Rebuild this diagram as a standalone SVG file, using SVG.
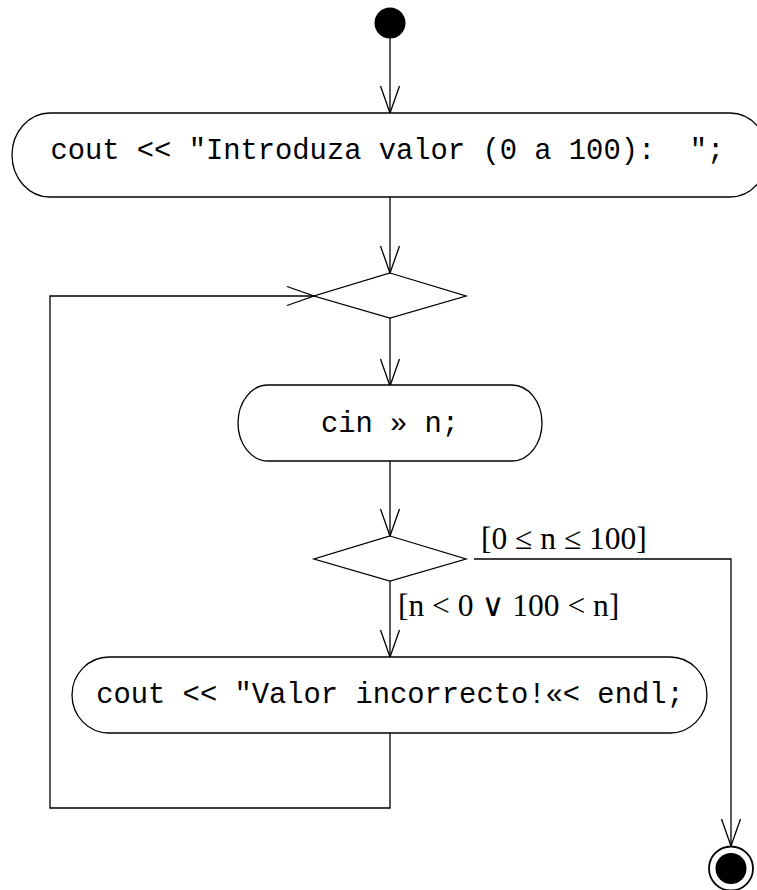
<svg xmlns="http://www.w3.org/2000/svg" width="757" height="890" viewBox="0 0 757 890">
  <style>
    .shape { fill: #ffffff; stroke: #000000; stroke-width: 1.3; }
    .edge { fill: none; stroke: #000000; stroke-width: 1.3; }
    .code { font-family: "Liberation Mono", "DejaVu Sans Mono", monospace; font-size: 28.8px; fill: #000000; }
    .guard { font-family: "Liberation Serif", "DejaVu Serif", serif; font-size: 31.5px; fill: #000000; }
    .op { font-family: "DejaVu Sans", "DejaVu Serif", sans-serif; font-weight: 200; font-size: 31.5px; }
  </style>
  <defs>
    <!-- open V arrowhead used on every control-flow edge -->
    <marker id="vee" markerUnits="userSpaceOnUse" markerWidth="40" markerHeight="30" viewBox="-30 -15 40 30" refX="0" refY="0" orient="auto" overflow="visible">
      <path d="M-27,-9.5 L0,0 L-27,9.5" fill="none" stroke="#000000" stroke-width="1.3"/>
    </marker>
  </defs>

  <rect width="757" height="890" fill="#ffffff"/>

  <!-- control-flow edges -->
  <g id="connectors">
    <path class="edge" d="M390,38 L390,113" marker-end="url(#vee)"/>
    <path class="edge" d="M390,189 L390,273" marker-end="url(#vee)"/>
    <path class="edge" d="M390,318 L390,386" marker-end="url(#vee)"/>
    <path class="edge" d="M390,461 L390,536" marker-end="url(#vee)"/>
    <path class="edge" d="M390,581 L390,657" marker-end="url(#vee)"/>
    <!-- loop back from the error message to the merge node -->
    <path class="edge" d="M390,733 L390,808 L50,808 L50,296 L314,296" marker-end="url(#vee)"/>
    <!-- valid value: leave the loop -->
    <path class="edge" d="M474,559 L731,559 L731,846" marker-end="url(#vee)"/>
    <text class="guard" x="481" y="549">[0 ≤ n ≤ 100]</text>
    <text class="guard" x="398" y="616">[n &lt; 0 <tspan class="op">∨</tspan> 100 &lt; n]</text>
  </g>

  <g id="start">
    <circle cx="390" cy="23" r="15.5" fill="#000000"/>
  </g>

  <g id="act-prompt">
    <rect class="shape" x="12" y="113" width="756" height="84" rx="38" ry="42"/>
    <text class="code" x="50.4" y="159" xml:space="preserve">cout &lt;&lt; "Introduza valor (0 a 100):  ";</text>
  </g>

  <g id="merge">
    <polygon class="shape" points="390,273 466,296 390,318 314,296"/>
  </g>

  <g id="act-read">
    <rect class="shape" x="238" y="385" width="304" height="76" rx="30" ry="38"/>
    <text class="code" x="390" y="431.5" text-anchor="middle">cin » n;</text>
  </g>

  <g id="decision">
    <polygon class="shape" points="390,536 466,559 390,581 314,559"/>
  </g>

  <g id="act-error">
    <rect class="shape" x="72" y="657" width="635" height="76" rx="37" ry="38"/>
    <text class="code" x="390" y="702.5" text-anchor="middle">cout &lt;&lt; "Valor incorrecto!«&lt; endl;</text>
  </g>

  <g id="end">
    <circle cx="731" cy="868.5" r="22" fill="#ffffff" stroke="#000000" stroke-width="1.8"/>
    <circle cx="731" cy="868.5" r="15.5" fill="#000000"/>
  </g>
</svg>
